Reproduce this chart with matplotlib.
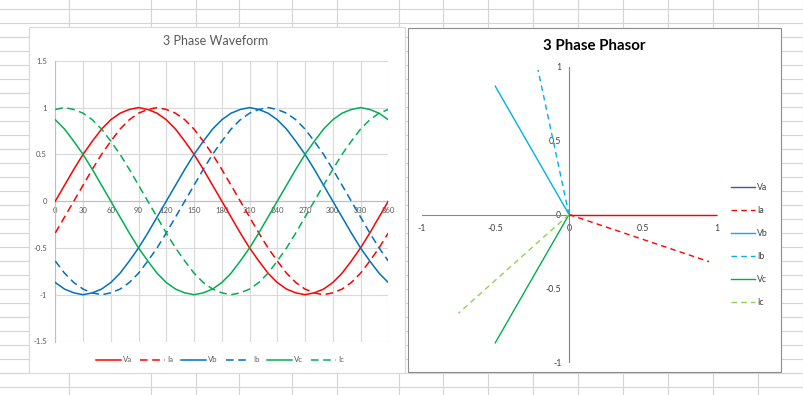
import matplotlib
matplotlib.use('Agg')
import matplotlib.pyplot as plt
from matplotlib.lines import Line2D
from matplotlib.patches import Rectangle

# ---------------- data ----------------
angle_deg = list(range(0, 361, 10))
va = [0, 0.17, 0.34, 0.5, 0.64, 0.77, 0.87, 0.94, 0.98, 1, 0.98, 0.94, 0.87, 0.77, 0.64, 0.5, 0.34, 0.17,
      0, -0.17, -0.34, -0.5, -0.64, -0.77, -0.87, -0.94, -0.98, -1, -0.98, -0.94, -0.87, -0.77, -0.64, -0.5,
      -0.34, -0.17, 0]
ia = [-0.34, -0.17, 0, 0.17, 0.34, 0.5, 0.64, 0.77, 0.87, 0.94, 0.98, 1, 0.98, 0.94, 0.87, 0.77, 0.64, 0.5,
      0.34, 0.17, 0, -0.17, -0.34, -0.5, -0.64, -0.77, -0.87, -0.94, -0.98, -1, -0.98, -0.94, -0.87, -0.77,
      -0.64, -0.5, -0.34]
vb = [-0.87, -0.94, -0.98, -1, -0.98, -0.94, -0.87, -0.77, -0.64, -0.5, -0.34, -0.17, 0, 0.17, 0.34, 0.5,
      0.64, 0.77, 0.87, 0.94, 0.98, 1, 0.98, 0.94, 0.87, 0.77, 0.64, 0.5, 0.34, 0.17, 0, -0.17, -0.34, -0.5,
      -0.64, -0.77, -0.87]
ib = [-0.64, -0.77, -0.87, -0.94, -0.98, -1, -0.98, -0.94, -0.87, -0.77, -0.64, -0.5, -0.34, -0.17, 0, 0.17,
      0.34, 0.5, 0.64, 0.77, 0.87, 0.94, 0.98, 1, 0.98, 0.94, 0.87, 0.77, 0.64, 0.5, 0.34, 0.17, 0, -0.17,
      -0.34, -0.5, -0.64]
vc = [0.87, 0.77, 0.64, 0.5, 0.34, 0.17, 0, -0.17, -0.34, -0.5, -0.64, -0.77, -0.87, -0.94, -0.98, -1, -0.98,
      -0.94, -0.87, -0.77, -0.64, -0.5, -0.34, -0.17, 0, 0.17, 0.34, 0.5, 0.64, 0.77, 0.87, 0.94, 0.98, 1,
      0.98, 0.94, 0.87]
ic = [0.98, 1, 0.98, 0.94, 0.87, 0.77, 0.64, 0.5, 0.34, 0.17, 0, -0.17, -0.34, -0.5, -0.64, -0.77, -0.87,
      -0.94, -0.98, -1, -0.98, -0.94, -0.87, -0.77, -0.64, -0.5, -0.34, -0.17, 0, 0.17, 0.34, 0.5, 0.64, 0.77,
      0.87, 0.94, 0.98]
wave_names = ['Va', 'Ia', 'Vb', 'Ib', 'Vc', 'Ic']
wave_xticks = list(range(0, 361, 30))
wave_yticks = [-1.5, -1, -0.5, 0, 0.5, 1, 1.5]
wave_yticklabels = ['-1.5', '-1', '-0.5', '0', '0.5', '1', '1.5']

# phasors: (x, y) start and end points
phasor_names = ['Va', 'Ia', 'Vb', 'Ib', 'Vc', 'Ic']
phasor_x = [[0, 1], [0, 0.95], [0, -0.5], [0, -0.21], [0, -0.5], [0, -0.75]]
phasor_y = [[0, 0], [0, -0.32], [0, 0.87], [0, 0.98], [0, -0.87], [0, -0.67]]
phasor_ticks = [-1, -0.5, 0, 0.5, 1]
phasor_ticklabels = ['-1', '-0.5', '0', '0.5', '1']

# ---------------- figure ----------------
W, H = 804, 395
plt.rcParams['font.family'] = ['Lato', 'DejaVu Sans']
fig = plt.figure(figsize=(W / 100, H / 100), dpi=100)
fig.patch.set_facecolor('white')


def fx(x):
    return x / W


def fy(y):
    return 1 - y / H


def box(l, t, r, b):
    return [fx(l), fy(b), (r - l) / W, (b - t) / H]


# spreadsheet grid background
sheet_c = '#D4D4D4'
col_x = [69, 151, 196, 239, 292, 337, 399, 443, 488, 533, 578, 623, 668, 713, 758, 803]
for x in col_x:
    fig.add_artist(Line2D([fx(x), fx(x)], [0, 1], color=sheet_c, lw=0.8, zorder=0))
for y in range(9, 395, 14):
    fig.add_artist(Line2D([0, 1], [fy(y), fy(y)], color=sheet_c, lw=0.8, zorder=0))

# chart panels
fig.add_artist(Rectangle((fx(29), fy(373)), (405 - 29) / W, (373 - 27) / H, transform=fig.transFigure,
                         facecolor='white', edgecolor='#D9D9D9', lw=0.8, zorder=1))
fig.add_artist(Rectangle((fx(408), fy(372)), (781 - 408) / W, (372 - 28) / H, transform=fig.transFigure,
                         facecolor='white', edgecolor='#8C8C8C', lw=0.8, zorder=1))

# ---------------- waveform chart ----------------
ax1 = fig.add_axes(box(55.3, 60.8, 388.3, 341.5))
ax1.set_zorder(5)
ax1.patch.set_alpha(0)
wave_data = [va, ia, vb, ib, vc, ic]
wave_colors = ['#FF0000', '#FF0000', '#0070C0', '#0070C0', '#00B050', '#00B050']
wave_styles = ['-', (0, (5, 3)), '-', (0, (5, 3)), '-', (0, (5, 3))]
for name, vals, c, ls in zip(wave_names, wave_data, wave_colors, wave_styles):
    ax1.plot(angle_deg, vals, color=c, ls=ls, lw=1.1, label=name, zorder=3)
ax1.set_xlim(0, 360)
ax1.set_ylim(-1.5, 1.5)
ax1.set_xticks(wave_xticks)
ax1.set_xticklabels([str(v) for v in wave_xticks])
ax1.set_yticks(wave_yticks)
ax1.set_yticklabels(wave_yticklabels)
ax1.grid(True, color='#D9D9D9', lw=0.8)
ax1.set_axisbelow(True)
for s in ['top', 'right']:
    ax1.spines[s].set_visible(False)
ax1.spines['bottom'].set_position(('data', 0))
ax1.spines['bottom'].set_color('#BFBFBF')
ax1.spines['left'].set_color('#BFBFBF')
ax1.spines['bottom'].set_linewidth(0.8)
ax1.spines['left'].set_linewidth(0.8)
ax1.tick_params(axis='x', length=0, pad=4.5, labelsize=5.6, labelcolor='#595959')
ax1.tick_params(axis='y', length=0, pad=6, labelsize=5.6, labelcolor='#595959')
fig.text(fx(216), fy(41), '3 Phase Waveform', ha='center', va='center', fontsize=9, color='#595959')
ax1.legend(loc='center', bbox_to_anchor=(fx(220), fy(360)), bbox_transform=fig.transFigure, ncol=6,
           frameon=False, fontsize=5.6, handlelength=3.2, handletextpad=0.3, columnspacing=1.0,
           labelcolor='#595959', borderpad=0, borderaxespad=0)

# ---------------- phasor chart ----------------
ax2 = fig.add_axes(box(421.5, 67, 716.5, 362))
ax2.set_zorder(5)
ax2.patch.set_alpha(0)
ph_colors = ['#FF0000', '#FF0000', '#00B0F0', '#00B0F0', '#00B050', '#92D050']
ph_styles = ['-', (0, (4, 3)), '-', (0, (4, 3)), '-', (0, (4, 3))]
for px, py, c, ls in zip(phasor_x, phasor_y, ph_colors, ph_styles):
    ax2.plot(px, py, color=c, ls=ls, lw=1.0, zorder=3)
ax2.set_xlim(-1, 1)
ax2.set_ylim(-1, 1)
ax2.set_xticks(phasor_ticks)
ax2.set_xticklabels(phasor_ticklabels)
ax2.set_yticks(phasor_ticks)
ax2.set_yticklabels(phasor_ticklabels)
for s in ['top', 'right']:
    ax2.spines[s].set_visible(False)
for s in ['left', 'bottom']:
    ax2.spines[s].set_position(('data', 0))
    ax2.spines[s].set_color('#868686')
    ax2.spines[s].set_linewidth(0.8)
    ax2.spines[s].set_zorder(2)
ax2.tick_params(axis='x', length=0, pad=6.5, labelsize=6.3, labelcolor='#404040')
ax2.tick_params(axis='y', length=0, pad=5.5, labelsize=6.3, labelcolor='#404040')
fig.text(fx(594), fy(46), '3 Phase Phasor', ha='center', va='center', fontsize=10.8, fontweight='bold',
         color='black')

legend_colors = ['#3A5A98', '#FF0000', '#00B0F0', '#00B0F0', '#00B050', '#92D050']
handles = [Line2D([], [], color=c, ls=ls, lw=1.0) for c, ls in zip(legend_colors, ph_styles)]
fig.legend(handles, phasor_names, loc='upper left', bbox_to_anchor=(fx(731), fy(183)), frameon=False,
           fontsize=6.3, handlelength=2.7, handletextpad=0.25, labelspacing=1.6, labelcolor='#404040',
           borderpad=0, borderaxespad=0)

fig.savefig('out.png', dpi=100, facecolor='white')
